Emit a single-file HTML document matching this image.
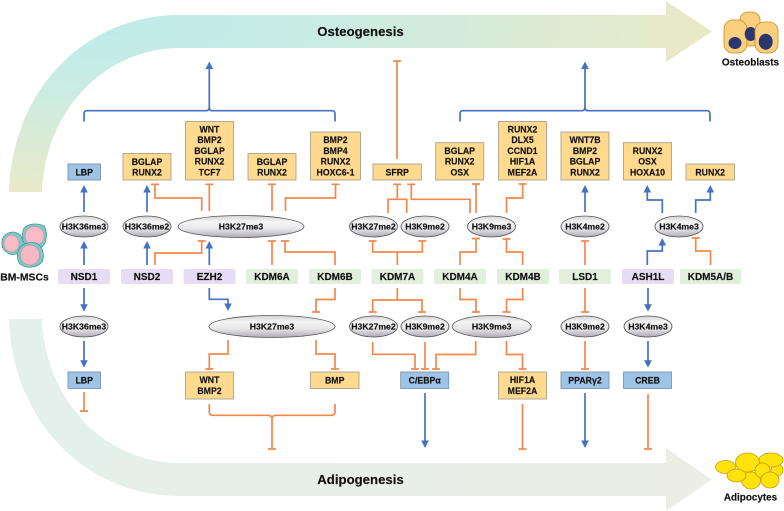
<!DOCTYPE html>
<html lang="en">
<head>
<meta charset="utf-8">
<title>Epigenetic regulation of BM-MSC differentiation</title>
<style>
html,body{margin:0;padding:0;background:#fff;width:784px;height:511px;overflow:hidden}
svg{display:block;filter:blur(.3px)}
text{font-family:"Liberation Sans",sans-serif;font-weight:bold;fill:#111;text-anchor:middle;stroke:#111;stroke-width:.15}
.b text,text.b{font-size:8.75px}
.e text{font-size:8.7px}
.z text{font-size:10px}
.or{fill:#ffd98e;stroke:#a8a38f;stroke-width:.9}
.bl{fill:#9dc3e6;stroke:#7d96ab;stroke-width:.9}
.pu{fill:#e6dcf3}
.gr{fill:#e2efdc}
.el{fill:url(#eg);stroke:#555;stroke-width:.8}
.lo{fill:none;stroke:#f5874a;stroke-width:1.7}
.lb{fill:none;stroke:#4472c4;stroke-width:1.7}
</style>
</head>
<body>
<svg xmlns="http://www.w3.org/2000/svg" width="784" height="511" viewBox="0 0 784 511">
<defs>
<radialGradient id="tg" gradientUnits="userSpaceOnUse" cx="0" cy="0" r="1" gradientTransform="translate(110 25) scale(610 175)">
<stop offset="0" stop-color="#bfece9"/><stop offset=".35" stop-color="#c9ece4"/><stop offset="1" stop-color="#ebe9c6"/>
</radialGradient>
<linearGradient id="bg" gradientUnits="userSpaceOnUse" x1="0" y1="320" x2="712" y2="480">
<stop offset="0" stop-color="#e3f0ec"/><stop offset="1" stop-color="#eceee5"/>
</linearGradient>
<linearGradient id="eg" x1="0" y1="0" x2="0" y2="1">
<stop offset="0" stop-color="#d4d4d8"/><stop offset=".3" stop-color="#f5f5f5"/><stop offset=".6" stop-color="#e8e7ea"/><stop offset="1" stop-color="#aeaab3"/>
</linearGradient>
<path id="u" d="M0 0L3.8 7.5H-3.8Z" fill="#4472c4"/>
<path id="d" d="M0 0L3.8 -7.5H-3.8Z" fill="#4472c4"/>
</defs>

<!-- Big arrows -->
<path d="M9 192C12 90 85 15 180 15H666V1L712 31.5L666 62V48H180C105 48 45 110 42 192Z" fill="url(#tg)"/>
<path d="M9 319C12 420 85 496 180 496H666V511L712 479.5L666 448V463H180C105 463 45 400 42 319Z" fill="url(#bg)"/>
<text x="360.5" y="36" font-size="13.2">Osteogenesis</text>
<text x="360.5" y="484" font-size="13.2">Adipogenesis</text>

<!-- Blue connectors -->
<g class="lb">
<path d="M84 121.5V114Q84 110.7 87 110.7H206Q209.3 110.7 209.3 107V66M209.3 107Q209.3 110.7 212 110.7H332Q335 110.7 335 114V121.5"/>
<path d="M460 121.5V114Q460 110.7 463 110.7H582Q585 110.7 585 107V66M585 107Q585 110.7 588 110.7H707Q710 110.7 710 114V121.5"/>
<path d="M84 212V190M147 212V190M84 265V246M147 265V246M209.3 265V246"/>
<path d="M585 212V190"/>
<path d="M662.3 213V200H647.3V190M695.7 213V200H710.3V190M647.3 265V251H662.3V243"/>
<path d="M84 288V307M84 341V363M209.3 288V299.3H228V306M648 288V307M648 341V363M425 393V444M585 393V444"/>
</g>
<g>
<use href="#u" x="209.3" y="61.5"/><use href="#u" x="585" y="61.5"/>
<use href="#u" x="84" y="185"/><use href="#u" x="147" y="185"/><use href="#u" x="585" y="185"/>
<use href="#u" x="647.3" y="185"/><use href="#u" x="710.3" y="185"/>
<use href="#u" x="84" y="241"/><use href="#u" x="147" y="241"/><use href="#u" x="209.3" y="241"/><use href="#u" x="662.3" y="238"/>
<use href="#d" x="84" y="311.7"/><use href="#d" x="84" y="367.7"/><use href="#d" x="228" y="311"/>
<use href="#d" x="648" y="311.7"/><use href="#d" x="648" y="367.7"/>
<use href="#d" x="425" y="448"/><use href="#d" x="585" y="448"/>
</g>

<!-- Orange connectors -->
<g class="lo">
<path d="M397 159V61M393 61H401"/>
<path d="M201.7 211V198H155V184.3M151 184.3H159"/>
<path d="M209.3 211V184.3M205.3 184.3H213.3"/>
<path d="M272 211V184.3M268 184.3H276"/>
<path d="M285.5 211V198H335.5V184.3M331.5 184.3H339.5"/>
<path d="M155 265V253H201.7V241M197.7 241H205.7"/>
<path d="M272 265V241M268 241H276"/>
<path d="M335 265V252H285V241M281 241H289"/>
<path d="M397.3 265V252M372.7 241V252H422.3V241M368.7 241H376.7M418.3 241H426.3"/>
<path d="M388 213V199.3H406.7V213M397.3 199.3V184.3M393.3 184.3H401.3"/>
<path d="M470 213V199.3H411.3V184.3M407.3 184.3H415.3"/>
<path d="M476 213V184M472 184H480"/>
<path d="M506.5 213V198H522.7V184M518.7 184H526.7"/>
<path d="M460 265V252H476V238.5M472 238.5H480"/>
<path d="M522.7 265V252H506.5V239M502.5 239H510.5"/>
<path d="M585 265V241M581 241H589"/>
<path d="M710.5 265V251H695.7V238M691.7 238H699.7"/>
<path d="M84 392V411M80 411H88"/>
<path d="M335 288V299.5H316V312M312 312H320"/>
<path d="M228 340V354H209.3V369M205.3 369H213.3"/>
<path d="M316 340V354H335V369M331 369H339"/>
<path d="M209.3 404V412Q209.3 415.3 213 415.3H268Q272 415.3 272 419V449M268 449H276M272 419Q272 415.3 276 415.3H331Q335 415.3 335 412V404"/>
<path d="M397.3 288V300M372.7 312V300H422V312M368.7 312H376.7M418 312H426"/>
<path d="M460 288V299.5H476V312M472 312H480"/>
<path d="M522.7 288V299.5H506.5V312M502.5 312H510.5"/>
<path d="M372.7 342V354.3H415V369M411 369H419"/>
<path d="M425 342V369M421 369H429"/>
<path d="M475.7 341V354.5H436V369M432 369H440"/>
<path d="M506.5 341V354.5H522.5V369M518.5 369H526.5"/>
<path d="M585 288V312M581 312H589"/>
<path d="M585 341V369M581 369H589"/>
<path d="M522.5 404V449M518.5 449H526.5"/>
<path d="M648 394V449M644 449H652"/>
</g>

<!-- Top row boxes -->
<g class="b">
<rect class="bl" x="68" y="164" width="32.5" height="16"/><text x="84.2" y="175.5">LBP</text>
<rect class="or" x="123" y="153.5" width="48" height="26.5"/><text x="147" y="165">BGLAP</text><text x="147" y="175.7">RUNX2</text>
<rect class="or" x="185.5" y="121.5" width="48" height="58.5"/><text x="209.5" y="132.5">WNT</text><text x="209.5" y="143.2">BMP2</text><text x="209.5" y="153.9">BGLAP</text><text x="209.5" y="164.6">RUNX2</text><text x="209.5" y="175.3">TCF7</text>
<rect class="or" x="248" y="153.5" width="48" height="26.5"/><text x="272" y="165">BGLAP</text><text x="272" y="175.7">RUNX2</text>
<rect class="or" x="310.5" y="132" width="50" height="48"/><text x="335.5" y="143.2">BMP2</text><text x="335.5" y="153.9">BMP4</text><text x="335.5" y="164.6">RUNX2</text><text x="335.5" y="175.3">HOXC6-1</text>
<rect class="or" x="373" y="164" width="48.3" height="16"/><text x="397.2" y="175.5">SFRP</text>
<rect class="or" x="435.7" y="142.7" width="48" height="37.3"/><text x="459.7" y="154">BGLAP</text><text x="459.7" y="164.7">RUNX2</text><text x="459.7" y="175.4">OSX</text>
<rect class="or" x="498.5" y="121.5" width="48" height="58.5"/><text x="522.5" y="132.5">RUNX2</text><text x="522.5" y="143.2">DLX5</text><text x="522.5" y="153.9">CCND1</text><text x="522.5" y="164.6">HIF1A</text><text x="522.5" y="175.3">MEF2A</text>
<rect class="or" x="561" y="132" width="48" height="48"/><text x="585" y="143.2">WNT7B</text><text x="585" y="153.9">BMP2</text><text x="585" y="164.6">BGLAP</text><text x="585" y="175.3">RUNX2</text>
<rect class="or" x="623.5" y="142.7" width="48" height="37.3"/><text x="647.5" y="154">RUNX2</text><text x="647.5" y="164.7">OSX</text><text x="647.5" y="175.4">HOXA10</text>
<rect class="or" x="686" y="164" width="48.5" height="16"/><text x="710.2" y="175.5">RUNX2</text>

<!-- Bottom row boxes -->
<rect class="bl" x="68" y="372" width="32.5" height="16.5"/><text x="84.2" y="383.5">LBP</text>
<rect class="or" x="185.5" y="372" width="48" height="27"/><text x="209.5" y="383.2">WNT</text><text x="209.5" y="393.9">BMP2</text>
<rect class="or" x="310.5" y="372" width="48.5" height="16.5"/><text x="334.7" y="383.5">BMP</text>
<rect class="bl" x="400.7" y="372" width="48" height="16.5"/><text x="424.7" y="383.5">C/EBPα</text>
<rect class="or" x="498.5" y="372" width="48" height="27"/><text x="522.5" y="383.2">HIF1A</text><text x="522.5" y="393.9">MEF2A</text>
<rect class="bl" x="561" y="372" width="48" height="16.5"/><text x="585" y="383.5">PPARγ2</text>
<rect class="bl" x="623.5" y="372" width="48" height="16.5"/><text x="647.5" y="383.5">CREB</text>
</g>

<!-- Top ellipses -->
<g class="e">
<ellipse class="el" cx="84" cy="226.5" rx="24" ry="10.5"/><text x="84" y="229.6">H3K36me3</text>
<ellipse class="el" cx="147" cy="226.5" rx="24" ry="10.5"/><text x="147" y="229.6">H3K36me2</text>
<ellipse class="el" cx="241" cy="226.5" rx="63" ry="11"/><text x="241" y="229.6">H3K27me3</text>
<ellipse class="el" cx="373.5" cy="226.5" rx="24" ry="10.5"/><text x="373.5" y="229.6">H3K27me2</text>
<ellipse class="el" cx="425" cy="226.5" rx="24" ry="10.5"/><text x="425" y="229.6">H3K9me2</text>
<ellipse class="el" cx="491.5" cy="226.5" rx="24" ry="10.5"/><text x="491.5" y="229.6">H3K9me3</text>
<ellipse class="el" cx="585" cy="226.5" rx="24" ry="10.5"/><text x="585" y="229.6">H3K4me2</text>
<ellipse class="el" cx="679" cy="226.5" rx="24" ry="10.5"/><text x="679" y="229.6">H3K4me3</text>
<!-- Bottom ellipses -->
<ellipse class="el" cx="84" cy="326.5" rx="24" ry="10.5"/><text x="84" y="329.6">H3K36me3</text>
<ellipse class="el" cx="272" cy="326.5" rx="63" ry="11"/><text x="272" y="329.6">H3K27me3</text>
<ellipse class="el" cx="373.5" cy="326.5" rx="24" ry="10.5"/><text x="373.5" y="329.6">H3K27me2</text>
<ellipse class="el" cx="425" cy="326.5" rx="24" ry="10.5"/><text x="425" y="329.6">H3K9me2</text>
<ellipse class="el" cx="491.7" cy="326.5" rx="39.5" ry="11"/><text x="491.7" y="329.6">H3K9me3</text>
<ellipse class="el" cx="585" cy="326.5" rx="24" ry="10.5"/><text x="585" y="329.6">H3K9me2</text>
<ellipse class="el" cx="648" cy="326.5" rx="24" ry="10.5"/><text x="648" y="329.6">H3K4me3</text>
</g>

<!-- Enzymes -->
<g class="z">
<rect class="pu" x="58" y="269" width="52" height="15" rx="2"/><text x="84" y="280.2">NSD1</text>
<rect class="pu" x="121" y="269" width="52" height="15" rx="2"/><text x="147" y="280.2">NSD2</text>
<rect class="pu" x="183.5" y="269" width="52" height="15" rx="2"/><text x="209.5" y="280.2">EZH2</text>
<rect class="gr" x="246" y="269" width="52" height="15" rx="2"/><text x="272" y="280.2">KDM6A</text>
<rect class="gr" x="309" y="269" width="52" height="15" rx="2"/><text x="335" y="280.2">KDM6B</text>
<rect class="gr" x="371.5" y="269" width="52" height="15" rx="2"/><text x="397.5" y="280.2">KDM7A</text>
<rect class="gr" x="434" y="269" width="52" height="15" rx="2"/><text x="460" y="280.2">KDM4A</text>
<rect class="gr" x="497" y="269" width="52" height="15" rx="2"/><text x="523" y="280.2">KDM4B</text>
<rect class="gr" x="559" y="269" width="52" height="15" rx="2"/><text x="585" y="280.2">LSD1</text>
<rect class="pu" x="622" y="269" width="52" height="15" rx="2"/><text x="648" y="280.2">ASH1L</text>
<rect class="gr" x="680" y="269" width="61" height="15" rx="2"/><text x="710.5" y="280.2">KDM5A/B</text>
</g>

<!-- BM-MSCs icon -->
<g>
<path d="M2 241C3 234 9 232 14 232C20 233 24 238 23 245C22 252 16 256 10 254C4 252 1 247 2 241Z" fill="#7cc9c6" stroke="#3f8f90" stroke-width=".7"/>
<ellipse cx="11.5" cy="243.5" rx="7.5" ry="8.5" fill="#f7bcc8" stroke="#c9808e" stroke-width=".5"/>
<path d="M24 228C29 223 38 223 44 226C48 232 47 243 42 247C35 250 26 247 23 241C22 236 22 232 24 228Z" fill="#7cc9c6" stroke="#3f8f90" stroke-width=".7"/>
<ellipse cx="34.5" cy="236" rx="9.5" ry="9.5" fill="#f7bcc8" stroke="#c9808e" stroke-width=".5"/>
<path d="M18 251C20 245 28 241 36 243C43 246 45 255 42 262C37 268 26 269 20 264C17 260 17 255 18 251Z" fill="#7cc9c6" stroke="#3f8f90" stroke-width=".7"/>
<ellipse cx="30" cy="255" rx="9.5" ry="10" fill="#f7b8c5" stroke="#c9808e" stroke-width=".5"/>
<text x="24.5" y="280.5" font-size="10.4">BM-MSCs</text>
</g>

<!-- Osteoblasts icon -->
<g stroke="#c98a1e" stroke-width=".8" fill="#fbcf7d">
<rect x="740" y="12" width="20" height="34" rx="8"/>
<rect x="724" y="20" width="23" height="33" rx="9"/>
<ellipse cx="735" cy="43" rx="6.5" ry="6" fill="#2b3670" stroke="none"/>
<ellipse cx="750.7" cy="34" rx="6" ry="7" fill="#2b3670" stroke="none"/>
<rect x="755" y="22" width="23" height="31" rx="9"/>
<ellipse cx="765.7" cy="41.7" rx="7" ry="8" fill="#2b3670" stroke="none"/>
</g>
<text x="750.5" y="65.5" font-size="10">Osteoblasts</text>

<!-- Adipocytes icon -->
<g fill="#ffe30a" stroke="#c79a12" stroke-width=".8">
<ellipse cx="777" cy="470" rx="6" ry="6"/>
<ellipse cx="751" cy="480.5" rx="9.5" ry="8.5"/>
<ellipse cx="747.5" cy="462.5" rx="12" ry="9.5"/>
<ellipse cx="725.5" cy="467" rx="10" ry="6.5"/>
<ellipse cx="771" cy="460" rx="12" ry="7"/>
<ellipse cx="762.5" cy="470.5" rx="7.5" ry="7.5"/>
<ellipse cx="736.5" cy="475.5" rx="9.5" ry="6.5"/>
<ellipse cx="770" cy="480" rx="9" ry="8"/>
</g>
<text x="750.5" y="500.5" font-size="9.9">Adipocytes</text>
</svg>
</body>
</html>
